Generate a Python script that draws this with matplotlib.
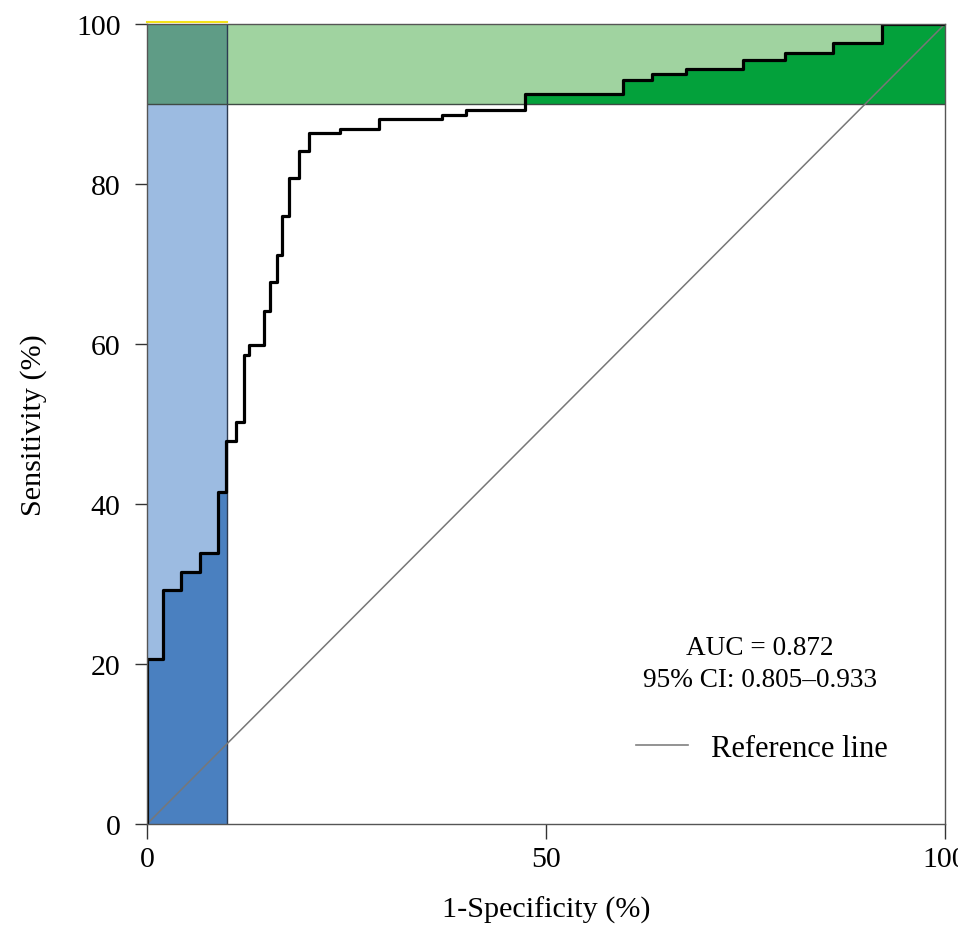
import numpy as np
import matplotlib.pyplot as plt
from matplotlib.lines import Line2D

plt.rcParams['font.family'] = ['Liberation Serif', 'DejaVu Serif']

# =============================================================================
# ROC CURVE DATA (corner points, in %)
# =============================================================================
fpr = [0, 0, 2.0, 4.3, 6.7, 8.9, 9.9, 11.2, 12.1, 12.8, 14.7, 15.4, 16.3, 16.9,
       17.8, 19.0, 20.3, 24.2, 29.1, 37.0, 40.0, 47.4, 59.6, 63.3, 67.5, 74.7,
       80.0, 86.0, 92.1, 100]
tpr = [0, 20.6, 29.3, 31.5, 33.9, 41.5, 47.9, 50.3, 58.6, 59.9, 64.1, 67.7, 71.1,
       76.0, 80.8, 84.1, 86.4, 86.9, 88.1, 88.6, 89.2, 91.25, 93.0, 93.8, 94.4,
       95.5, 96.4, 97.6, 100, 100]

spec_cut = 10   # partial AUC: 1-specificity 0-10 %
sens_cut = 90   # partial AUC: sensitivity 90-100 %

auc_text = 'AUC = 0.872\n95% CI: 0.805\u20130.933'

fpr = np.array(fpr)
tpr = np.array(tpr)

fig = plt.figure(figsize=(9.58, 9.29), dpi=100)
ax = fig.add_axes([0.1534, 0.1119, 0.8330, 0.8612])

# --- shaded partial-AUC regions ---
ax.fill_between([0, spec_cut], 0, sens_cut, color='#9cbbe1', lw=0, zorder=1)
ax.fill_between(np.minimum(fpr, spec_cut), 0, tpr, step='post',
                color='#4a80c0', lw=0, zorder=2)
ax.fill_between([spec_cut, 100], sens_cut, 100, color='#a0d3a0', lw=0, zorder=1)
ax.fill_between([0, spec_cut], sens_cut, 100, color='#5f9c86', lw=0, zorder=1)
ax.fill_betweenx(np.clip(tpr, sens_cut, 100), fpr, 100, step='pre',
                 color='#03a13b', lw=0, zorder=2)

# region borders
ax.plot([spec_cut, spec_cut], [0, 100], color='#2d3b52', lw=1.0, zorder=3)
ax.plot([0, 100], [sens_cut, sens_cut], color='#3f4a44', lw=1.0, zorder=3)
ax.plot([0, spec_cut], [100.3, 100.3], color='#f2e21a', lw=1.5, zorder=3,
        clip_on=False)

# --- reference line and ROC curve ---
ax.plot([0, 100], [0, 100], color='#777777', lw=1.1, zorder=4)
ax.plot(fpr, tpr, drawstyle='steps-post', color='black', lw=2.3, zorder=5)

ax.text(0.768, 0.201, auc_text, transform=ax.transAxes, ha='center',
        va='center', fontsize=19.6, linespacing=1.35)
ref = Line2D([], [], color='#808080', lw=1.2)
ax.legend([ref], ['Reference line'], loc='center right',
          bbox_to_anchor=(0.963, 0.095), frameon=False, fontsize=22,
          handlelength=1.7, handletextpad=0.75)

ax.set_xlim(0, 100)
ax.set_ylim(0, 100)
ax.set_xticks([0, 50, 100])
ax.set_yticks([0, 20, 40, 60, 80, 100])
ax.tick_params(axis='both', labelsize=21.5, length=9, width=1, color='#333333')
ax.tick_params(axis='y', pad=10)
ax.tick_params(axis='x', length=11, pad=5)
ax.set_xlabel('1-Specificity (%)', fontsize=21.7, labelpad=17)
ax.set_ylabel('Sensitivity (%)', fontsize=21.7, labelpad=21)
for s in ax.spines.values():
    s.set_color('#555555')
    s.set_linewidth(1.0)
    s.set_zorder(6)

fig.savefig('out.png', dpi=100)
